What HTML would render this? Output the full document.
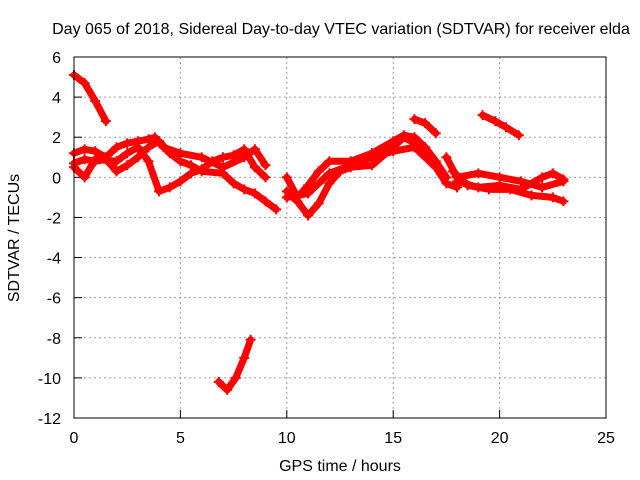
<!DOCTYPE html>
<html><head><meta charset="utf-8"><style>
body{margin:0;background:#fff}
svg{display:block;font-family:"Liberation Sans",sans-serif;font-size:16px}
</style></head><body>
<svg id="chart" width="640" height="480">
<text x="341" y="34" text-anchor="middle">Day 065 of 2018, Sidereal Day-to-day VTEC variation (SDTVAR) for receiver elda</text>
<text x="340" y="471" text-anchor="middle">GPS time / hours</text>
<text transform="translate(19,238) rotate(-90)" text-anchor="middle">SDTVAR / TECUs</text>
<g id="grid"></g><g id="marks"></g>
<rect x="74" y="57" width="532" height="361" fill="none" stroke="#000"/>
</svg>
<script>
const xTicks=[0,5,10,15,20,25];
const yTicks=[6,4,2,0,-2,-4,-6,-8,-10,-12];
const t1=[[0,5.1],[0.5,4.7],[1,3.8],[1.5,2.8]];
const t2=[[6.8,-10.2],[7.2,-10.6],[7.6,-10],[8,-9],[8.3,-8.1]];
const t3=[[16,2.9],[16.5,2.7],[17,2.2]];
const t4=[[19.2,3.1],[19.8,2.8],[20.3,2.5],[20.9,2.1]];
const t5=[[0,1.2],[0.5,1.4],[1,1.3],[1.5,1.0],[2,1.5],[2.5,1.7],[3,1.8],[3.5,1.9],[3.8,2.0],[4.2,1.5],[5,1.2],[6,1.0],[7,0.5],[8,1.0],[8.5,1.4],[9,0.6]];
const t6=[[0,0.7],[0.5,0.9],[1,0.8],[1.5,0.9],[2,0.3],[2.5,0.6],[3,1.0],[3.5,1.5],[4,1.8],[4.5,1.2],[5,0.8],[5.5,0.6],[6,0.3],[7,0.2],[7.5,-0.3],[8,-0.6],[8.5,-0.8],[9,-1.2],[9.5,-1.6]];
const t7=[[0,0.5],[0.5,0],[1,0.9],[2,0.8],[2.5,1.2],[3,1.5],[3.5,0.8],[4,-0.7],[4.5,-0.5],[5,-0.2],[5.5,0.2],[6,0.4],[6.5,0.8],[7,1.0],[7.5,1.1],[8,1.4],[8.5,0.5],[9,0]];
const t8=[[10,-0.7],[10.5,-1.2],[11,-1.9],[11.5,-1.3],[12,-0.3],[12.5,0.3],[13,0.5],[14,0.6],[15,1.5],[15.5,2],[16,1.7],[16.5,1.2]];
const t9=[[10,0],[10.5,-1.0],[11,-0.4],[11.5,0.3],[12,0.8],[13,0.8],[14,1.2],[15,1.8],[15.5,2.1],[16,2],[16.5,1.5],[17,0.8],[17.5,0]];
const t10=[[10,-1],[11,-0.8],[12,0.2],[13,0.6],[14,1.0],[15,1.3],[16,1.5],[17,0.5],[17.5,-0.3],[18,-0.5]];
const t11=[[17.5,1.0],[18,0],[19,0.2],[20,0],[21,-0.2],[22,-0.5],[23,-0.2]];
const t12=[[17.8,0.3],[18.5,-0.4],[19.5,-0.6],[20.5,-0.6],[21.5,-0.9],[22.5,-1.0],[23,-1.2]];
const t13=[[18,-0.2],[19,-0.5],[20,-0.4],[21,-0.6],[22,0],[22.5,0.2],[23,-0.1]];
const tracks=[t1,t2,t3,t4,t5,t6,t7,t8,t9,t10,t11,t12,t13];
const X=v=>74+v*532/25, Y=v=>57+(6-v)*361/18;
const NS='http://www.w3.org/2000/svg';
const g=document.getElementById('grid'), m=document.getElementById('marks');
function mk(tag,a,p){const e=document.createElementNS(NS,tag);for(const k in a)e.setAttribute(k,a[k]);p.appendChild(e);return e;}
xTicks.forEach(t=>{
 if(t>0&&t<25){const l=mk('line',{x1:X(t),x2:X(t),y1:57,y2:418,stroke:'#a0a0a0','stroke-dasharray':'2,3'},g);}
 const tk=mk('line',{x1:X(t),x2:X(t),y1:418,y2:410,stroke:'#000'},g);
 const tx=mk('text',{x:X(t),y:443,'text-anchor':'middle'},g);tx.textContent=t;
});
yTicks.forEach(t=>{
 if(t<6&&t>-12){const l=mk('line',{x1:74,x2:606,y1:Y(t),y2:Y(t),stroke:'#a0a0a0','stroke-dasharray':'2,3'},g);}
 const tk=mk('line',{x1:74,x2:82,y1:Y(t),y2:Y(t),stroke:'#000'},g);
 const tx=mk('text',{x:61,y:Y(t)+6,'text-anchor':'end'},g);tx.textContent=t;
});
tracks.forEach(tr=>{
 const pl=mk('polyline',{points:tr.map(p=>X(p[0])+','+Y(p[1])).join(' '),fill:'none',stroke:'#f00','stroke-width':7,'stroke-linejoin':'round','stroke-linecap':'round'},m);
 
 
 tr.forEach(p=>{const c=mk('path',{d:`M${X(p[0])-5},${Y(p[1])}h10M${X(p[0])},${Y(p[1])-5}v10`,stroke:'#f00','stroke-width':2},m);
  
  });
});
</script>
</body></html>
